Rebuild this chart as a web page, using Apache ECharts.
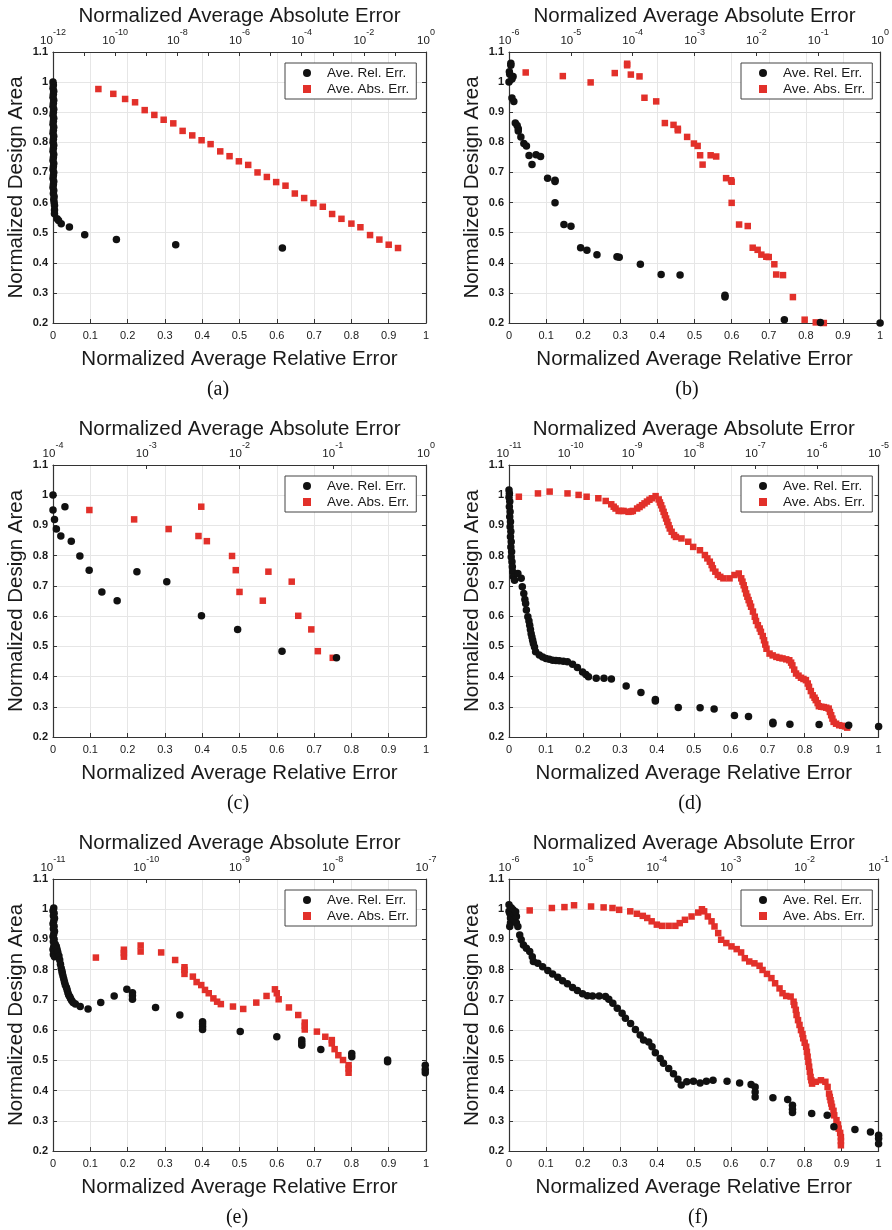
<!DOCTYPE html>
<html>
<head>
<meta charset="utf-8">
<script src="https://cdn.jsdelivr.net/npm/echarts@6/dist/echarts.min.js"></script>
<style>
  html, body { margin: 0; padding: 0; background: #fff; }
  #chart { width: 892px; height: 1230px; }
</style>
</head>
<body>
<div id="chart"></div>
<script>
// x of the black points: normalized average relative error (bottom axis)
// x of the red points: log10 of normalized average absolute error (top axis)
// y: normalized design area

var relA = [
  [0.000,1.000],[0.001,0.990],[0.000,0.980],[0.002,0.970],[0.001,0.960],[0.000,0.950],[0.002,0.940],
  [0.001,0.930],[0.000,0.920],[0.002,0.910],[0.001,0.900],[0.000,0.890],[0.002,0.880],[0.001,0.870],
  [0.000,0.860],[0.002,0.850],[0.001,0.840],[0.000,0.830],[0.002,0.820],[0.001,0.810],[0.000,0.800],
  [0.002,0.790],[0.001,0.780],[0.000,0.770],[0.002,0.760],[0.001,0.750],[0.000,0.740],[0.002,0.730],
  [0.001,0.720],[0.000,0.710],[0.002,0.700],[0.001,0.690],[0.000,0.680],[0.002,0.670],[0.001,0.660],
  [0.000,0.650],[0.002,0.640],[0.001,0.630],[0.003,0.620],[0.002,0.610],[0.003,0.600],[0.004,0.590],
  [0.004,0.575],[0.004,0.563],[0.011,0.546],[0.015,0.540],[0.022,0.530],[0.044,0.519],[0.085,0.493],
  [0.170,0.477],[0.329,0.460],[0.615,0.449]
];
var absA = [
  [-10.54,0.977],[-10.06,0.961],[-9.68,0.944],[-9.36,0.933],[-9.05,0.907],[-8.74,0.891],[-8.44,0.875],
  [-8.13,0.863],[-7.83,0.838],[-7.52,0.823],[-7.22,0.807],[-6.93,0.794],[-6.62,0.770],[-6.32,0.754],
  [-6.02,0.737],[-5.72,0.725],[-5.42,0.700],[-5.12,0.685],[-4.82,0.668],[-4.52,0.656],[-4.22,0.630],
  [-3.92,0.615],[-3.62,0.598],[-3.32,0.586],[-3.02,0.562],[-2.72,0.546],[-2.40,0.530],[-2.11,0.518],
  [-1.80,0.492],[-1.50,0.477],[-1.20,0.460],[-0.90,0.449]
];

var relB = [
  [0.005,1.063],[0.005,1.056],[0.001,1.034],[0.002,1.026],[0.011,1.019],[0.000,1.000],[0.008,1.010],
  [0.008,0.947],[0.013,0.936],[0.017,0.864],[0.022,0.856],[0.025,0.845],[0.025,0.838],[0.032,0.818],
  [0.040,0.796],[0.047,0.788],[0.054,0.756],[0.062,0.726],[0.073,0.759],[0.085,0.753],[0.104,0.681],
  [0.124,0.674],[0.124,0.670],[0.124,0.599],[0.148,0.527],[0.167,0.521],[0.193,0.450],[0.210,0.442],
  [0.237,0.427],[0.291,0.420],[0.297,0.418],[0.354,0.395],[0.410,0.361],[0.461,0.359],[0.582,0.286],
  [0.582,0.292],[0.742,0.211],[0.839,0.202],[1.000,0.200]
];
var absB = [
  [-5.73,1.032],[-5.13,1.020],[-4.68,0.999],[-4.29,1.030],[-4.09,1.061],[-4.09,1.056],[-4.03,1.025],
  [-3.89,1.019],[-3.81,0.948],[-3.62,0.936],[-3.48,0.864],[-3.34,0.858],[-3.27,0.845],[-3.27,0.840],
  [-3.12,0.818],[-3.01,0.796],[-2.95,0.788],[-2.91,0.757],[-2.87,0.726],[-2.74,0.757],[-2.65,0.753],
  [-2.49,0.681],[-2.41,0.674],[-2.40,0.669],[-2.40,0.599],[-2.28,0.527],[-2.14,0.522],[-2.06,0.450],
  [-1.98,0.443],[-1.92,0.427],[-1.84,0.420],[-1.80,0.419],[-1.71,0.395],[-1.68,0.361],[-1.57,0.359],
  [-1.41,0.286],[-1.22,0.211],[-1.04,0.202],[-0.91,0.200]
];

var relC = [
  [0.000,1.001],[0.000,0.951],[0.004,0.920],[0.009,0.888],[0.021,0.865],[0.032,0.962],[0.049,0.848],
  [0.072,0.799],[0.097,0.752],[0.131,0.680],[0.172,0.651],[0.225,0.747],[0.305,0.714],[0.398,0.601],
  [0.495,0.556],[0.614,0.484],[0.760,0.462]
];
var absC = [
  [-3.61,0.951],[-3.13,0.920],[-2.76,0.888],[-2.41,0.962],[-2.44,0.865],[-2.35,0.848],[-2.08,0.799],
  [-2.04,0.752],[-2.00,0.680],[-1.75,0.651],[-1.69,0.747],[-1.44,0.714],[-1.37,0.601],[-1.23,0.556],
  [-1.16,0.484],[-1.00,0.462]
];

var relD = [
  [0.000,1.017],[0.001,1.006],[0.000,0.993],[0.002,0.979],[0.001,0.962],[0.003,0.945],[0.002,0.929],
  [0.004,0.912],[0.003,0.896],[0.005,0.880],[0.004,0.863],[0.006,0.846],[0.005,0.829],[0.007,0.813],
  [0.006,0.796],[0.008,0.780],[0.009,0.763],[0.010,0.747],[0.012,0.730],[0.015,0.719],[0.024,0.741],
  [0.033,0.725],[0.036,0.697],[0.040,0.675],[0.043,0.655],[0.045,0.642],[0.047,0.620],[0.051,0.598],
  [0.054,0.584],[0.056,0.570],[0.058,0.556],[0.060,0.542],[0.062,0.531],[0.064,0.520],[0.066,0.509],
  [0.069,0.498],[0.072,0.482],[0.082,0.471],[0.091,0.465],[0.100,0.460],[0.109,0.457],[0.118,0.454],
  [0.127,0.453],[0.136,0.452],[0.147,0.451],[0.158,0.449],[0.172,0.441],[0.185,0.430],[0.199,0.415],
  [0.208,0.407],[0.215,0.399],[0.236,0.394],[0.257,0.394],[0.277,0.392],[0.317,0.369],[0.357,0.347],
  [0.396,0.324],[0.396,0.319],[0.458,0.298],[0.517,0.297],[0.555,0.293],[0.610,0.271],[0.648,0.268],
  [0.714,0.244],[0.714,0.249],[0.760,0.242],[0.839,0.241],[0.919,0.239],[1.000,0.235]
];
var absD = [
  [-10.84,0.995],[-10.53,1.006],[-10.34,1.012],[-10.05,1.006],[-9.87,1.001],[-9.74,0.995],[-9.55,0.990],
  [-9.43,0.981],[-9.34,0.970],[-9.30,0.962],[-9.27,0.956],[-9.22,0.948],[-9.18,0.948],[-9.14,0.948],
  [-9.06,0.945],[-9.02,0.946],[-8.99,0.948],[-8.92,0.956],[-8.88,0.961],[-8.84,0.967],[-8.80,0.973],
  [-8.76,0.979],[-8.72,0.985],[-8.68,0.990],[-8.62,0.997],[-8.57,0.986],[-8.55,0.976],[-8.53,0.967],
  [-8.51,0.956],[-8.49,0.945],[-8.47,0.934],[-8.45,0.923],[-8.43,0.912],[-8.41,0.901],[-8.39,0.890],
  [-8.36,0.879],[-8.32,0.868],[-8.29,0.862],[-8.20,0.857],[-8.09,0.846],[-8.01,0.829],[-7.90,0.818],
  [-7.82,0.802],[-7.78,0.791],[-7.74,0.780],[-7.71,0.769],[-7.69,0.758],[-7.65,0.747],[-7.61,0.736],
  [-7.57,0.730],[-7.52,0.725],[-7.42,0.725],[-7.34,0.736],[-7.27,0.741],[-7.23,0.725],[-7.21,0.714],
  [-7.19,0.702],[-7.17,0.689],[-7.15,0.675],[-7.13,0.664],[-7.11,0.653],[-7.09,0.642],[-7.07,0.631],
  [-7.04,0.615],[-7.01,0.598],[-6.99,0.584],[-6.96,0.570],[-6.93,0.559],[-6.91,0.548],[-6.88,0.534],
  [-6.86,0.520],[-6.84,0.506],[-6.82,0.492],[-6.77,0.476],[-6.72,0.470],[-6.66,0.465],[-6.61,0.462],
  [-6.56,0.460],[-6.50,0.457],[-6.45,0.454],[-6.42,0.446],[-6.40,0.437],[-6.37,0.423],[-6.34,0.410],
  [-6.30,0.403],[-6.26,0.396],[-6.22,0.392],[-6.18,0.388],[-6.15,0.377],[-6.13,0.366],[-6.10,0.352],
  [-6.07,0.338],[-6.04,0.330],[-6.02,0.322],[-5.99,0.312],[-5.97,0.302],[-5.93,0.300],[-5.89,0.299],
  [-5.85,0.297],[-5.81,0.294],[-5.79,0.283],[-5.77,0.272],[-5.75,0.261],[-5.73,0.250],[-5.69,0.244],
  [-5.64,0.239],[-5.59,0.237],[-5.54,0.235],[-5.51,0.231]
];

var relE = [
  [0.002,1.004],[0.000,0.995],[0.003,0.987],[0.001,0.978],[0.004,0.970],[0.002,0.961],[0.000,0.952],
  [0.003,0.944],[0.001,0.935],[0.004,0.927],[0.002,0.918],[0.000,0.910],[0.003,0.901],[0.001,0.893],
  [0.004,0.884],[0.002,0.876],[0.000,0.867],[0.003,0.859],[0.001,0.850],[0.004,0.843],[0.006,0.884],
  [0.009,0.877],[0.011,0.867],[0.013,0.857],[0.016,0.845],[0.018,0.832],[0.020,0.818],[0.022,0.805],
  [0.024,0.796],[0.025,0.788],[0.027,0.778],[0.029,0.768],[0.031,0.758],[0.033,0.749],[0.036,0.741],
  [0.038,0.733],[0.040,0.724],[0.042,0.716],[0.045,0.710],[0.047,0.705],[0.050,0.698],[0.054,0.691],
  [0.060,0.686],[0.073,0.678],[0.094,0.670],[0.128,0.691],[0.164,0.713],[0.198,0.735],[0.213,0.724],
  [0.213,0.714],[0.213,0.702],[0.275,0.675],[0.340,0.650],[0.401,0.628],[0.401,0.620],[0.401,0.611],
  [0.401,0.602],[0.502,0.595],[0.600,0.578],[0.667,0.567],[0.667,0.558],[0.667,0.550],[0.718,0.536],
  [0.801,0.523],[0.801,0.512],[0.897,0.501],[0.897,0.495],[0.998,0.484],[0.998,0.470],[0.998,0.459]
];
var absE = [
  [-10.54,0.840],[-10.24,0.866],[-10.24,0.855],[-10.24,0.843],[-10.06,0.880],[-10.06,0.860],[-9.84,0.857],
  [-9.69,0.832],[-9.59,0.808],[-9.59,0.799],[-9.59,0.786],[-9.50,0.777],[-9.46,0.759],[-9.41,0.749],
  [-9.37,0.733],[-9.33,0.722],[-9.28,0.705],[-9.24,0.694],[-9.20,0.686],[-9.07,0.678],[-8.96,0.670],
  [-8.82,0.691],[-8.71,0.713],[-8.62,0.735],[-8.60,0.722],[-8.58,0.702],[-8.47,0.675],[-8.37,0.650],
  [-8.30,0.625],[-8.30,0.614],[-8.30,0.602],[-8.17,0.595],[-8.08,0.578],[-8.01,0.567],[-8.01,0.556],
  [-7.98,0.537],[-7.94,0.517],[-7.89,0.501],[-7.83,0.484],[-7.83,0.473],[-7.83,0.459]
];

var relF = [
  [0.000,1.015],[0.000,0.993],[0.002,0.987],[0.004,0.971],[0.004,0.954],[0.011,0.998],[0.015,0.982],
  [0.015,0.965],[0.020,0.976],[0.020,0.954],[0.024,0.943],[0.002,0.943],[0.006,1.005],[0.018,0.992],
  [0.029,0.915],[0.033,0.899],[0.039,0.882],[0.047,0.871],[0.056,0.860],[0.063,0.843],[0.066,0.827],
  [0.078,0.821],[0.091,0.810],[0.105,0.797],[0.118,0.786],[0.132,0.775],[0.145,0.763],[0.158,0.753],
  [0.172,0.741],[0.185,0.731],[0.199,0.720],[0.212,0.714],[0.226,0.713],[0.244,0.713],[0.261,0.711],
  [0.270,0.702],[0.281,0.689],[0.293,0.672],[0.306,0.656],[0.315,0.639],[0.329,0.622],[0.342,0.602],
  [0.355,0.584],[0.364,0.567],[0.378,0.561],[0.387,0.545],[0.396,0.525],[0.409,0.506],[0.418,0.490],
  [0.432,0.473],[0.445,0.456],[0.457,0.437],[0.466,0.418],[0.481,0.429],[0.499,0.431],[0.517,0.425],
  [0.534,0.431],[0.552,0.434],[0.590,0.431],[0.624,0.425],[0.655,0.420],[0.666,0.412],[0.666,0.395],
  [0.666,0.379],[0.714,0.376],[0.754,0.370],[0.767,0.351],[0.767,0.338],[0.767,0.327],[0.819,0.324],
  [0.861,0.318],[0.879,0.280],[0.936,0.271],[0.978,0.263],[1.000,0.252],[1.000,0.241],[1.000,0.224]
];
var absF = [
  [-5.72,0.996],[-5.42,1.004],[-5.25,1.007],[-5.12,1.013],[-4.89,1.009],[-4.72,1.006],[-4.60,1.004],
  [-4.51,0.998],[-4.36,0.993],[-4.27,0.985],[-4.19,0.978],[-4.13,0.971],[-4.07,0.960],[-4.00,0.949],
  [-3.93,0.945],[-3.84,0.945],[-3.75,0.945],[-3.69,0.954],[-3.62,0.965],[-3.53,0.976],[-3.44,0.989],
  [-3.39,1.000],[-3.36,0.993],[-3.31,0.976],[-3.26,0.960],[-3.22,0.943],[-3.17,0.921],[-3.13,0.899],
  [-3.06,0.888],[-2.99,0.877],[-2.92,0.868],[-2.86,0.857],[-2.81,0.838],[-2.75,0.827],[-2.68,0.821],
  [-2.61,0.813],[-2.57,0.799],[-2.51,0.786],[-2.45,0.772],[-2.40,0.755],[-2.34,0.738],[-2.30,0.722],
  [-2.25,0.713],[-2.19,0.711],[-2.15,0.694],[-2.14,0.683],[-2.12,0.667],[-2.11,0.650],[-2.09,0.633],
  [-2.07,0.617],[-2.05,0.600],[-2.03,0.587],[-2.02,0.573],[-2.00,0.558],[-1.98,0.545],[-1.97,0.528],
  [-1.96,0.512],[-1.95,0.495],[-1.94,0.479],[-1.93,0.462],[-1.92,0.445],[-1.91,0.434],[-1.90,0.423],
  [-1.85,0.429],[-1.78,0.434],[-1.72,0.429],[-1.69,0.412],[-1.67,0.390],[-1.66,0.379],[-1.65,0.368],
  [-1.64,0.357],[-1.63,0.346],[-1.61,0.333],[-1.60,0.318],[-1.57,0.302],[-1.55,0.288],[-1.54,0.274],
  [-1.52,0.260],[-1.51,0.246],[-1.51,0.233],[-1.51,0.219]
];

// top axis range (decades) and label step for each panel
var topExpMin = [-12, -6, -4, -11, -11, -6];
var topExpMax = [0, 0, 0, -5, -7, -1];
var topLabelStep = [2, 1, 1, 1, 1, 1];

var relData = [relA, relB, relC, relD, relE, relF];
var absData = [absA, absB, absC, absD, absE, absF];
var captions = ['(a)', '(b)', '(c)', '(d)', '(e)', '(f)'];

var seriesNames = ['Ave. Rel. Err.', 'Ave. Abs. Err.'];

// layout
var boxes = [
  {left: 53, top: 52, width: 373, height: 271, capX: 218, capY: 390},
  {left: 509, top: 52, width: 372, height: 271, capX: 687, capY: 390},
  {left: 53, top: 465, width: 373, height: 272, capX: 238, capY: 804},
  {left: 509, top: 465, width: 372, height: 272, capX: 690, capY: 804},
  {left: 53, top: 879, width: 373, height: 272, capX: 237, capY: 1218},
  {left: 509, top: 879, width: 372, height: 272, capX: 698, capY: 1218}
];

var FONT = '"Liberation Sans", Arial, Helvetica, sans-serif';
var TXT = '#1a1a1a';
var FRAME = '#333';
var GRIDC = '#e6e6e6';

var option = {
  animation: false,
  backgroundColor: '#fff',
  textStyle: {fontFamily: FONT},
  grid: [], xAxis: [], yAxis: [], series: [], legend: [], graphic: []
};

boxes.forEach(function (b, i) {
  option.grid.push({left: b.left, top: b.top, width: b.width, height: b.height});

  // bottom linear axis
  option.xAxis.push({
    gridIndex: i, type: 'value', position: 'bottom', min: 0, max: 1, interval: 0.1,
    name: 'Normalized Average Relative Error', nameLocation: 'middle', nameGap: 26,
    nameTextStyle: {fontSize: 20.5, color: TXT, fontFamily: FONT},
    axisLine: {show: true, onZero: false, lineStyle: {color: FRAME, width: 1.2}},
    axisTick: {show: true, inside: true, length: 4, lineStyle: {color: FRAME}},
    axisLabel: {fontSize: 11, color: TXT, margin: 7, fontFamily: FONT},
    splitLine: {show: true, lineStyle: {color: GRIDC, width: 1}}
  });
  // top axis, in decades
  var step = topLabelStep[i];
  option.xAxis.push({
    gridIndex: i, type: 'value', position: 'top', min: topExpMin[i], max: topExpMax[i], interval: 1,
    name: 'Normalized Average Absolute Error', nameLocation: 'middle', nameGap: 25,
    nameTextStyle: {fontSize: 20.5, color: TXT, fontFamily: FONT},
    axisLine: {show: true, onZero: false, lineStyle: {color: FRAME, width: 1.2}},
    axisTick: {show: true, inside: true, length: 4, lineStyle: {color: FRAME}},
    axisLabel: {
      margin: 5,
      formatter: function (v) {
        if (Math.round(v) % step !== 0) return '';
        return '{b|10}{s|' + Math.round(v) + '}';
      },
      rich: {
        b: {fontSize: 11.5, color: TXT, fontFamily: FONT, lineHeight: 19, verticalAlign: 'bottom'},
        s: {fontSize: 9, color: TXT, fontFamily: FONT, lineHeight: 19, verticalAlign: 'top'}
      }
    },
    splitLine: {show: false}
  });

  option.yAxis.push({
    gridIndex: i, type: 'value', position: 'left', min: 0.2, max: 1.1, interval: 0.1,
    name: 'Normalized Design Area', nameLocation: 'middle', nameGap: 26,
    nameTextStyle: {fontSize: 20.5, color: TXT, fontFamily: FONT},
    axisLine: {show: true, onZero: false, lineStyle: {color: FRAME, width: 1.2}},
    axisTick: {show: true, inside: true, length: 4, lineStyle: {color: FRAME}},
    axisLabel: {fontSize: 11, color: TXT, fontWeight: 'bold', margin: 5, fontFamily: FONT},
    splitLine: {show: true, lineStyle: {color: GRIDC, width: 1}}
  });
  option.yAxis.push({
    gridIndex: i, type: 'value', position: 'right', min: 0.2, max: 1.1, interval: 0.1,
    axisLine: {show: true, onZero: false, lineStyle: {color: FRAME, width: 1.2}},
    axisTick: {show: true, inside: true, length: 4, lineStyle: {color: FRAME}},
    axisLabel: {show: false},
    splitLine: {show: false}
  });

  option.series.push({
    name: seriesNames[1], type: 'scatter', xAxisIndex: 2 * i + 1, yAxisIndex: 2 * i,
    symbol: 'rect', symbolSize: 6.5, data: absData[i],
    itemStyle: {color: '#e2302a', opacity: 1}
  });
  option.series.push({
    name: seriesNames[0], type: 'scatter', xAxisIndex: 2 * i, yAxisIndex: 2 * i,
    symbol: 'circle', symbolSize: 7.5, data: relData[i],
    itemStyle: {color: '#111', opacity: 1}
  });

  option.legend.push({
    left: b.left + 232, top: b.top + 11, orient: 'vertical', selectedMode: false,
    data: [{name: seriesNames[0], icon: 'circle'}, {name: seriesNames[1], icon: 'rect'}],
    itemWidth: 8, itemHeight: 8, itemGap: 2,
    padding: [3, 7, 3, 18],
    borderColor: '#444', borderWidth: 1, backgroundColor: '#fff',
    textStyle: {fontSize: 13.5, color: TXT, fontFamily: FONT, padding: [0, 0, 0, 11]}
  });

  option.graphic.push({
    type: 'text', x: b.capX, y: b.capY,
    style: {
      text: captions[i], fill: '#111', textAlign: 'center', textVerticalAlign: 'middle',
      font: '20px "Liberation Serif", "Times New Roman", serif'
    }
  });
});

var chart = echarts.init(document.getElementById('chart'), null, {renderer: 'canvas'});
chart.setOption(option);
</script>
</body>
</html>
